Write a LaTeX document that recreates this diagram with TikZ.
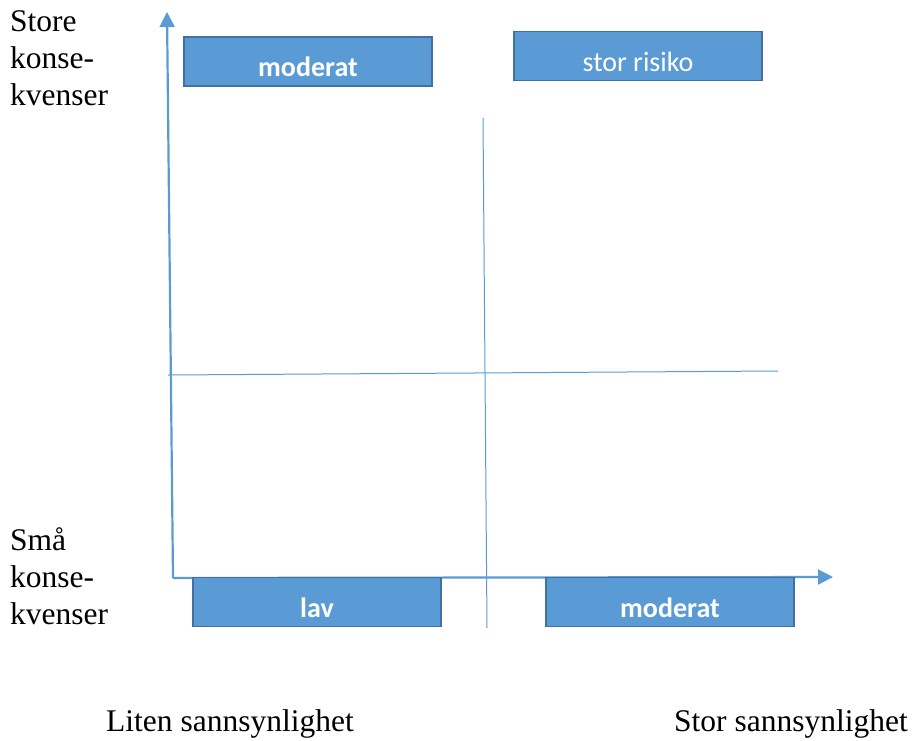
\documentclass[tikz,border=0pt]{standalone}
\usepackage{fontspec}
\setmainfont{Liberation Serif}
\newfontfamily\boxfont{Carlito}
\usetikzlibrary{arrows.meta}
\definecolor{axisblue}{HTML}{5B9BD5}
\definecolor{boxfill}{HTML}{5B9BD5}
\definecolor{boxedge}{HTML}{41719C}
\tikzset{
  riskbox/.style={draw=boxedge, line width=1.6pt, fill=boxfill, text=white,
    minimum width=248pt, minimum height=49pt, inner sep=0pt,
    text height=30pt, text depth=0pt, font=\boxfont\fontsize{28}{30}\selectfont},
  axisline/.style={draw=axisblue, line width=2.2pt, -{Triangle[length=15pt,width=15pt]}},
  gridline/.style={draw=axisblue, line width=1pt},
  lbl/.style={font=\fontsize{31.5}{37}\selectfont, align=left, inner sep=0pt},
}
\begin{document}
\begin{tikzpicture}[x=1pt,y=-1pt]
\useasboundingbox (0,0) rectangle (914,740);
% axes
\coordinate (origin) at (173,578);
\coordinate (ytip) at (167,12);
\coordinate (xtip) at (833,577);
\draw[axisline] (origin) -- (ytip);
\draw[axisline] (origin) -- (xtip);
% grid lines
\coordinate (hl) at (168,375);
\coordinate (hr) at (778,371);
\coordinate (vt) at (483,118);
\coordinate (vb) at (487,628);
\draw[gridline] (hl) -- (hr);
\draw[gridline] (vt) -- (vb);
% boxes
\node[riskbox, font=\boxfont\bfseries\fontsize{28}{30}\selectfont] (tl) at (308,61.5) {moderat};
\node[riskbox] (tr) at (638,56) {stor risiko};
\node[riskbox, font=\boxfont\bfseries\fontsize{28}{30}\selectfont] (bl) at (317,602) {lav};
\node[riskbox, font=\boxfont\bfseries\fontsize{28}{30}\selectfont] (br) at (670,602) {moderat};
% labels
\node[lbl, anchor=north west] (store) at (10,10) {Store\\konse-\\kvenser};
\node[lbl, anchor=north west] (smaa) at (10,527) {Små\\konse-\\kvenser};
\node[lbl, anchor=west] (liten) at (106,724) {Liten sannsynlighet};
\node[lbl, anchor=east] (stor) at (908,724) {Stor sannsynlighet};
\end{tikzpicture}
\end{document}
